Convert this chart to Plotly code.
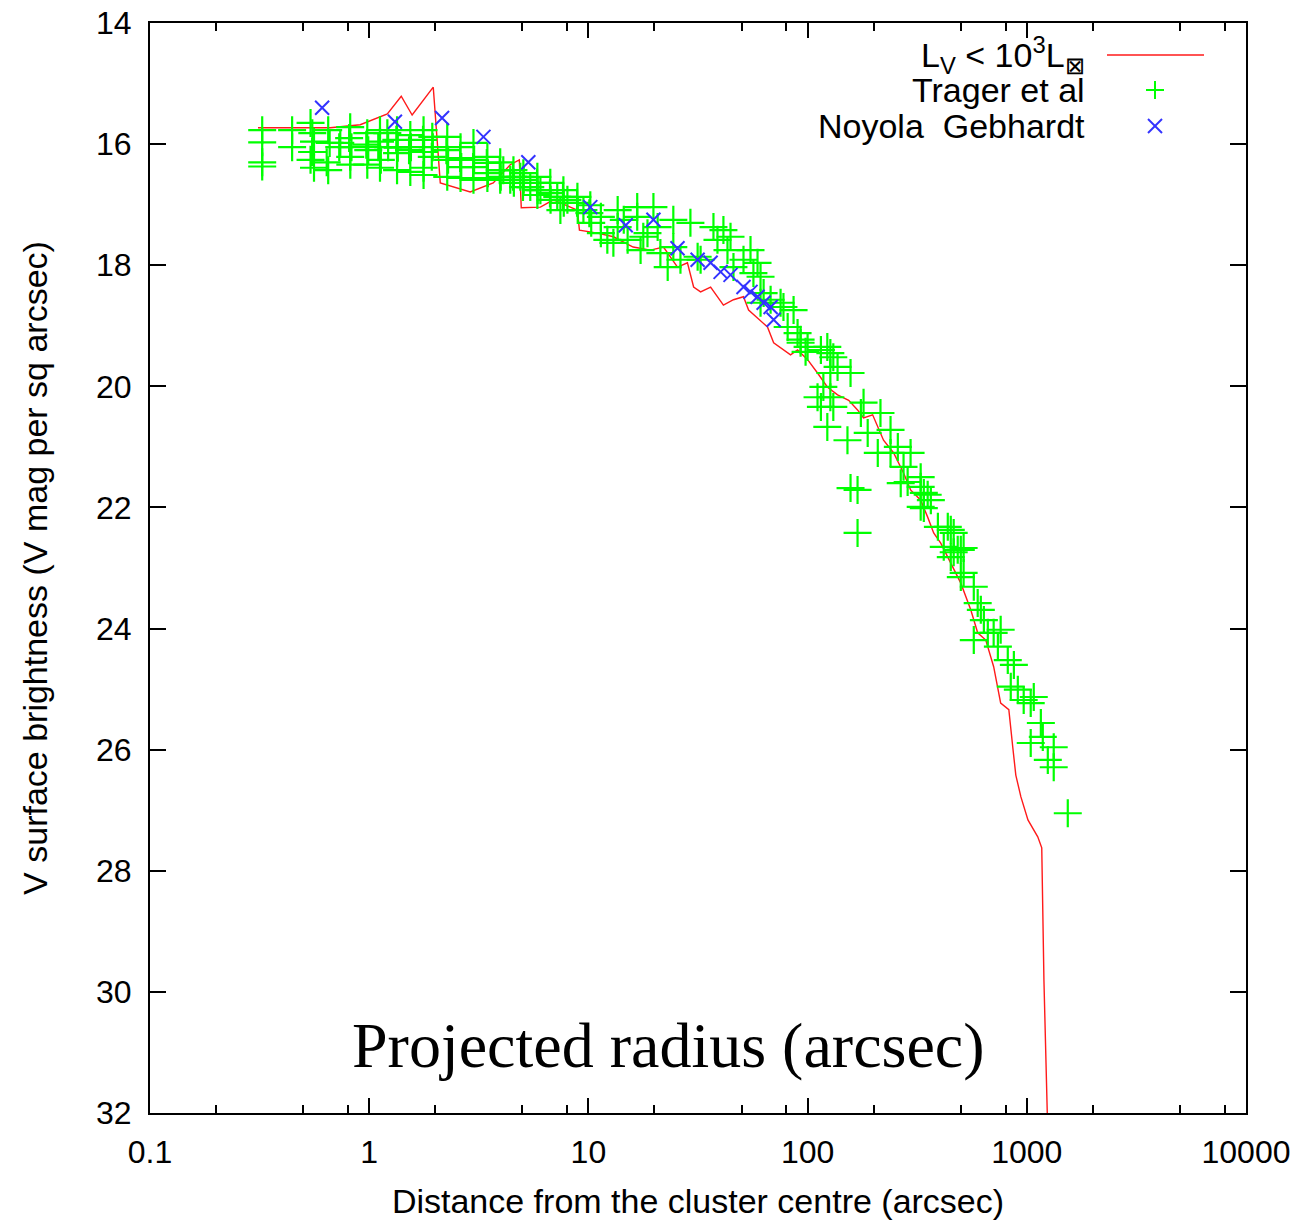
import plotly.graph_objects as go

# ---------------- data ----------------
# model curve  L_V < 10^3 L_sun
model_r = [0.311, 0.664, 0.91, 1.21, 1.40, 1.57, 1.96, 2.11, 2.89, 3.68, 4.40, 4.84, 4.94,
           6.04, 6.92, 8.91, 9.10, 11.0, 13.0, 16.0, 19.2, 22.0, 25.5, 28.3, 30.2, 32.5,
           36.1, 41.3, 45.9, 51.0, 53.8, 59.1, 65.6, 70.0, 83.6, 90.0, 100, 111, 123, 137,
           154, 169, 180, 198, 209, 222, 247, 274, 295, 328, 353, 376, 405, 450, 500, 555,
           597, 650, 706, 760, 828, 863, 891, 940, 1012, 1122, 1170, 1197, 1247, 1270]
model_mag = [15.73, 15.73, 15.68, 15.50, 15.21, 15.52, 15.06, 16.64, 16.79, 16.64, 16.34, 16.26, 17.05,
             17.04, 16.92, 17.09, 17.42, 17.47, 17.53, 17.70, 17.75, 17.70, 18.03, 17.96, 18.36, 18.44,
             18.36, 18.66, 18.57, 18.52, 18.74, 18.87, 19.02, 19.28, 19.48, 19.40, 19.56, 19.78, 20.01, 20.14,
             20.23, 20.39, 20.52, 20.47, 20.67, 20.89, 21.10, 21.43, 21.71, 21.88, 22.16, 22.42, 22.59, 22.92, 23.25, 23.69,
             24.07, 24.19, 24.63, 25.23, 25.34, 25.96, 26.42, 26.78, 27.16, 27.44, 27.62, 29.80, 32.0, 33.5]

# Trager et al
trager_r = [0.325, 0.325, 0.325, 0.325, 0.445, 0.445,
            0.54, 0.55, 0.56, 0.549, 0.54, 0.56,
            0.650, 0.66, 0.64, 0.650, 0.738, 0.73,
            0.819, 0.81, 0.83, 0.819, 0.82,
            0.98, 0.97, 0.99, 0.98,
            1.12, 1.12, 1.10, 1.13, 1.12, 1.21, 1.22,
            1.34, 1.33, 1.35, 1.34, 1.34,
            1.54, 1.55, 1.52, 1.54,
            1.77, 1.76, 1.78, 1.77, 1.77,
            1.94, 1.95, 1.93,
            2.27, 2.25, 2.29, 2.27,
            2.61, 2.60, 2.63, 2.61,
            2.99, 3.01, 2.98, 2.99,
            3.46, 3.44, 3.48, 3.46,
            3.96, 3.94, 3.98, 3.96,
            4.55, 4.53, 4.57,
            5.05, 5.07, 5.03,
            5.85, 5.83, 5.87, 5.85,
            6.70, 6.68, 6.72,
            7.69, 7.66, 7.72,
            8.91, 8.88, 8.94,
            10.2, 10.1, 10.3,
            4.09, 4.40, 4.89, 5.43, 6.04, 7.21, 8.02, 7.45, 9.49, 11.4, 11.4, 12.2, 13.6, 13.6,
            13.0, 14.5, 15.1, 16.7, 16.7, 17.8, 17.3, 19.8, 20.7, 18.6, 21.3, 23.0, 24.4, 24.4,
            26.3, 29.2, 31.5, 32.5, 37.2, 38.8, 41.3, 43.1, 44.5, 45.9, 51.0, 54.9, 56.6, 59.1,
            61.0, 63.0, 67.8, 75.3, 81.1, 86.3, 92.9, 100, 115, 127,
            61.0, 77.6, 90.0, 92.9, 97.9, 123, 131, 137, 157, 127, 118, 111, 127, 115, 131, 123,
            180, 175, 215, 152, 188, 239, 209, 239, 258, 295, 274, 157, 169, 169, 286, 328, 339,
            328, 365, 393, 450, 418, 484, 515,
            266, 328, 353, 339, 436, 464, 464, 500, 450, 515, 500, 573, 597, 617, 637, 573, 664,
            706, 760, 738, 819, 873, 845, 910, 968, 1042, 1076, 1159, 1183, 1042, 1327, 1247,
            1327, 1538]
trager_mag = [15.77, 15.97, 16.30, 16.37, 15.77, 16.05,
              15.65, 15.82, 15.96, 16.13, 16.26, 16.39,
              15.77, 15.98, 16.30, 16.43, 15.98, 16.05,
              15.72, 15.90, 16.05, 16.21, 16.34,
              15.82, 16.01, 16.10, 16.34,
              15.77, 15.96, 16.05, 16.26, 16.39, 15.82, 16.05,
              15.77, 15.93, 16.06, 16.15, 16.43,
              15.85, 16.05, 16.10, 16.46,
              15.77, 15.93, 16.13, 16.39, 16.51,
              15.88, 16.05, 16.21,
              15.88, 16.10, 16.26, 16.54,
              16.05, 16.23, 16.38, 16.56,
              15.98, 16.26, 16.38, 16.59,
              16.21, 16.31, 16.48, 16.56,
              16.30, 16.43, 16.54, 16.59,
              16.43, 16.54, 16.64,
              16.48, 16.59, 16.71,
              16.54, 16.64, 16.76, 16.84,
              16.64, 16.81, 16.92,
              16.76, 16.87, 16.97,
              16.87, 16.97, 17.09,
              17.01, 17.14, 17.30,
              16.43, 16.59, 16.54, 16.71, 16.76, 16.87, 16.92, 17.09, 17.09, 17.20, 17.47, 17.58, 17.09, 17.37,
              17.63, 17.25, 17.58, 17.04, 17.20, 17.53, 17.75, 17.04, 17.37, 17.47, 17.80, 18.03, 17.25, 17.70,
              17.91, 17.30, 17.86, 17.91, 17.37, 17.58, 17.42, 17.75, 17.53, 18.03, 17.91, 17.75, 18.13, 17.96,
              18.19, 18.46, 18.57, 18.62, 19.02, 18.74, 19.23, 19.35, 19.40, 19.45,
              18.62, 18.69, 19.12, 19.28, 19.43, 19.35, 19.52, 19.68, 19.78, 19.78, 20.01, 20.18, 20.18, 20.34, 20.34, 20.67,
              20.27, 20.44, 20.44, 20.89, 20.77, 20.72, 21.10, 21.10, 21.00, 21.10, 21.33, 21.68, 21.71, 22.42, 21.58, 21.50, 21.76,
              21.99, 21.88, 22.32, 22.37, 22.65, 22.70, 22.67,
              21.60, 21.66, 21.79, 22.01, 22.32, 22.42, 22.74, 22.70, 22.82, 23.08, 23.15, 23.31, 23.58, 23.69, 23.86, 24.19, 24.07,
              24.07, 24.02, 24.30, 24.52, 24.60, 24.96, 25.01, 25.18, 25.23, 25.13, 25.56, 25.79, 25.89, 25.96, 26.17,
              26.29, 27.05]

# Noyola & Gebhardt
noyola_r = [0.61, 1.31, 2.15, 3.32, 5.32, 10.2, 14.8, 19.8, 25.5, 31.5, 36.1, 40.1, 44.5,
            51.0, 54.9, 59.1, 63.0, 67.8, 70.0]
noyola_mag = [15.40, 15.63, 15.57, 15.88, 16.30, 17.04, 17.34, 17.25, 17.72, 17.91, 17.96, 18.11, 18.16,
              18.36, 18.44, 18.52, 18.62, 18.69, 18.90]

x_tickvals = [0.1, 1, 10, 100, 1000, 10000]
x_ticktext = ["0.1", "1", "10", "100", "1000", "10000"]
x_minor = [m * d for d in [0.1, 1, 10, 100, 1000] for m in (2, 5, 8)]
y_tickvals = [14, 16, 18, 20, 22, 24, 26, 28, 30, 32]

legend_labels = ["L<sub>V</sub> &lt; 10<sup>3</sup>L<sub>⊠</sub>", "Trager et al", "Noyola  Gebhardt"]

RED = "#ff1a1a"
GREEN = "#00ff00"
BLUE = "#3333ff"
FONT = "Liberation Sans, Arial, sans-serif"

fig = go.Figure()
fig.add_trace(go.Scatter(x=model_r, y=model_mag, mode="lines",
                         line=dict(color=RED, width=1.4), showlegend=False))
fig.add_trace(go.Scatter(x=trager_r, y=trager_mag, mode="markers",
                         marker=dict(symbol="cross-thin", size=20, line=dict(color=GREEN, width=2.2)),
                         showlegend=False))
fig.add_trace(go.Scatter(x=noyola_r, y=noyola_mag, mode="markers",
                         marker=dict(symbol="x-thin", size=14, line=dict(color=BLUE, width=2)),
                         showlegend=False))

# legend drawn gnuplot-style (text right, sample to the right)
W, H = 1096.0, 1090.0
def px(xp):
    return (xp - 150) / W
def py(yp):
    return (1113 - yp) / H

rows_y = [55, 90, 126]
for lab, yy in zip(legend_labels, rows_y):
    fig.add_annotation(x=px(1087), y=py(yy), xref="paper", yref="paper", text=lab,
                       showarrow=False, xanchor="right", yanchor="middle",
                       font=dict(family=FONT, size=34, color="black"))
# sample line
fig.add_shape(type="line", xref="paper", yref="paper", x0=px(1107), x1=px(1204),
              y0=py(55), y1=py(55), line=dict(color=RED, width=1.4))
# sample +
fig.add_shape(type="line", xref="paper", yref="paper", x0=px(1146), x1=px(1164),
              y0=py(90), y1=py(90), line=dict(color=GREEN, width=2))
fig.add_shape(type="line", xref="paper", yref="paper", x0=px(1155), x1=px(1155),
              y0=py(81), y1=py(99), line=dict(color=GREEN, width=2))
# sample x
fig.add_shape(type="line", xref="paper", yref="paper", x0=px(1148), x1=px(1162),
              y0=py(119), y1=py(133), line=dict(color=BLUE, width=2))
fig.add_shape(type="line", xref="paper", yref="paper", x0=px(1148), x1=px(1162),
              y0=py(133), y1=py(119), line=dict(color=BLUE, width=2))

fig.add_annotation(x=px(668), y=py(1045), xref="paper", yref="paper",
                   text="Projected radius (arcsec)", showarrow=False,
                   xanchor="center", yanchor="middle",
                   font=dict(family="Liberation Serif, Times New Roman, serif", size=64, color="black"))

fig.update_layout(
    width=1304, height=1220,
    margin=dict(l=150, r=58, t=23, b=107),
    plot_bgcolor="white", paper_bgcolor="white",
    font=dict(family=FONT, size=32, color="black"),
    showlegend=False,
)
fig.update_xaxes(type="log", range=[-1, 4], showgrid=False, zeroline=False, automargin=False,
                 showline=True, linecolor="black", linewidth=2, mirror="ticks",
                 ticks="inside", ticklen=15, tickwidth=1.5, tickcolor="black",
                 tickvals=x_tickvals, ticktext=x_ticktext,
                 tickfont=dict(family=FONT, size=32, color="black"),
                 ticklabelstandoff=10,
                 minor=dict(tickmode="array", tickvals=x_minor, ticks="inside",
                            ticklen=8, tickwidth=1.5, tickcolor="black", showgrid=False),
                 title=dict(text="Distance from the cluster centre (arcsec)",
                            font=dict(family=FONT, size=34, color="black"), standoff=20))
fig.update_yaxes(range=[32, 14], showgrid=False, zeroline=False, automargin=False,
                 showline=True, linecolor="black", linewidth=2, mirror="ticks",
                 ticks="inside", ticklen=16, tickwidth=1.5, tickcolor="black",
                 tickvals=y_tickvals,
                 tickfont=dict(family=FONT, size=32, color="black"),
                 ticklabelstandoff=10,
                 title=dict(text="V surface brightness (V mag per sq arcsec)",
                            font=dict(family=FONT, size=34, color="black"), standoff=38))

fig.write_html("out.html")
